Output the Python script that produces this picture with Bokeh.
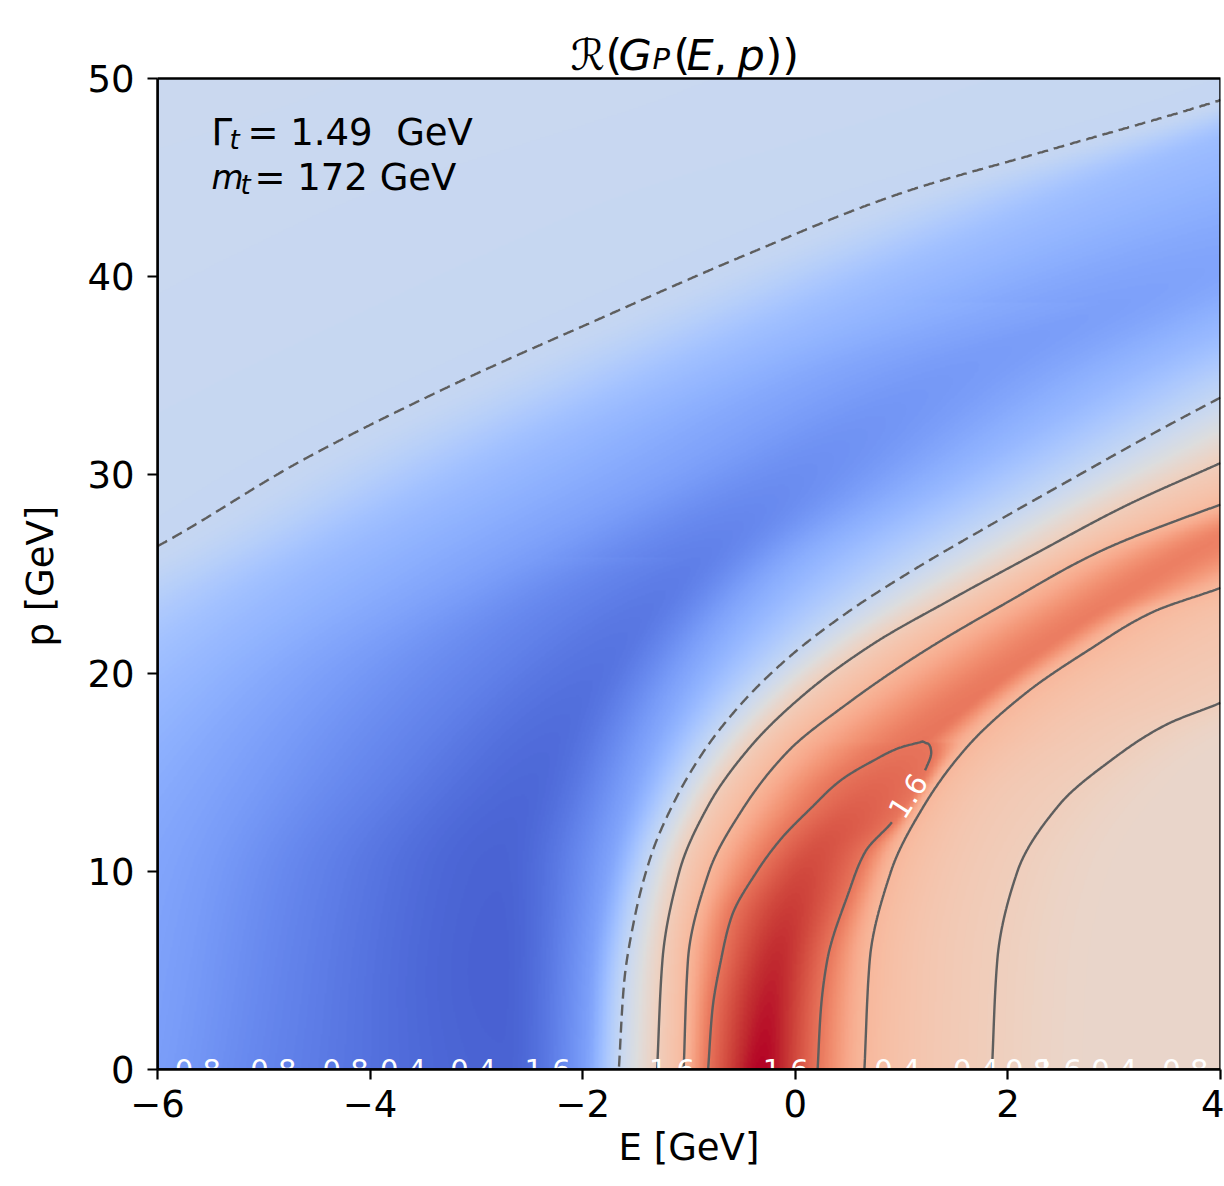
import numpy as np
import contourpy
from bokeh.plotting import figure
from bokeh.models import Range1d, LinearColorMapper, FixedTicker, Label, BoxAnnotation
from bokeh.core.properties import value
from bokeh.embed import file_html
from bokeh.resources import INLINE

# ---------------- values ----------------
E_TICKS = [-6, -4, -2, 0, 2, 4]
P_TICKS = [0, 10, 20, 30, 40, 50]

# colour field, estimated in value units (colour scale -2.4 .. 2.4)
FAR_LEFT_E = -30.0
FAR_LEFT_V = -0.28
# left flank of the blue trough: positions of the -1.0, -1.4, -1.8 values
LW10_P = [0, 10, 15, 20, 25, 30, 35, 40, 45, 50]
LW10_E = [-9.5, -8.0, -7.0, -6.0, -4.7, -3.0, -1.1, 1.0, 3.2, 5.6]
LW10_V = -1.0
LW14_P = [0, 10, 15, 20, 25, 30, 35, 39.2]
LW14_E = [-6.2, -5.8, -5.3, -4.5, -3.0, -1.2, 0.6, 3.2]
LW14_V = -1.4
LW18_P = [0, 10, 15, 20, 25, 26.2]
LW18_E = [-4.83, -4.5, -3.8, -2.9, -1.5, -0.85]
LW18_V = -1.8

ROW_P = [0, 5, 10, 15, 20, 25, 30, 35, 40, 45, 50]
TROUGH_E = [-2.75, -2.8, -2.8, -2.45, -1.9, -1.1, 0.0, 1.4, 3.6, 5.8, 8.0]
TROUGH_V = [-2.15, -2.17, -2.15, -2.08, -1.98, -1.85, -1.65, -1.50, -1.38, -1.25, -1.10]
SHOULDER_E = [-2.0, -1.95, -1.8, -1.5, -1.0, -0.15, 1.3, 3.0, 5.2, 7.4, 10.0]
SHOULDER_V = [-1.45, -1.45, -1.42, -1.38, -1.32, -1.25, -1.20, -1.10, -1.00, -0.90, -0.80]
PLATEAU_E = [2.8, 2.85, 3.05, 3.7, 5.5, 8.0, 10.5, 13.0, 16.0, 19.0, 22.5]
PLATEAU_V = 0.24
FAR_E = 30.0
FAR_V = 0.15

RIDGE_P = [0, 5, 10, 14.5, 16.55, 19, 21, 23.5, 26.8, 30, 35, 40, 45, 50]
RIDGE_E = [-0.32, -0.2, 0.1, 0.8, 1.2, 1.75, 2.25, 2.95, 4.0, 5.6, 8.0, 10.8, 13.6, 17.0]
RIDGE_V = [2.4, 2.25, 2.0, 1.72, 1.6, 1.56, 1.52, 1.5, 1.48, 1.42, 1.3, 1.2, 1.1, 1.0]

# contour lines (E read at given p) and their levels
LEVEL_NEG = -0.4
LEVEL_A = 0.4
LEVEL_B = 0.8
LEVEL_C = 1.6

D1_P = [0, 10, 20, 26.4, 30.7, 34.5, 37.9, 41.2, 44.2, 46.4, 48.9, 50]
D1_E = [-14.0, -11.5, -8.5, -6.0, -4.65, -3.24, -1.83, -0.42, 0.99, 2.40, 4.0, 4.6]
D2_P = [0, 4.4, 7.7, 10.9, 13.6, 16.1, 18.5, 20.8, 23.1, 25.3, 27.3, 29.7, 32.1, 33.9, 35, 40, 45, 50]
D2_E = [-1.66, -1.61, -1.51, -1.35, -1.13, -0.855, -0.50, -0.06, 0.50, 1.14, 1.78, 2.57, 3.37, 4.0, 4.4, 6.6, 9.0, 12.0]
L1_P = [0, 5.5, 10, 13.4, 16.3, 19.0, 21.5, 23.7, 26.0, 28.5, 30.6, 35, 40, 45, 50]
L1_E = [-1.30, -1.25, -1.09, -0.81, -0.42, 0.10, 0.74, 1.46, 2.25, 3.13, 4.0, 5.8, 8.2, 10.8, 14.0]
L2_P = [0, 5.5, 10, 13.1, 16.1, 18.5, 21.0, 23.5, 26.2, 28.5, 30, 35, 40, 45, 50]
L2_E = [-1.05, -1.01, -0.81, -0.50, -0.06, 0.50, 1.18, 1.97, 2.89, 4.0, 4.8, 7.0, 9.5, 12.2, 15.5]
C_LEFT_P = [0, 3, 5.5, 7.7, 10, 11.6, 13.2, 14.6, 15.6, 16.25, 16.55]
C_LEFT_E = [-0.82, -0.78, -0.70, -0.60, -0.36, -0.14, 0.15, 0.43, 0.74, 0.99, 1.2]
C_RIGHT_P = [0, 3, 5.5, 8.9, 11.0, 12.55, 15.2, 16.0, 16.4, 16.55]
C_RIGHT_E = [0.21, 0.24, 0.30, 0.50, 0.66, 0.92, 1.23, 1.28, 1.26, 1.2]
R2_P = [0, 5.5, 10, 13.4, 16.3, 19.0, 21.2, 23.1, 24.3, 27.5, 30, 35, 40, 45, 50]
R2_E = [0.65, 0.70, 0.90, 1.22, 1.62, 2.17, 2.77, 3.37, 4.0, 5.5, 6.8, 9.5, 12.5, 15.5, 19.0]
R1_P = [0, 5.5, 10, 13.4, 15.6, 17.4, 18.5, 20, 22.5, 25, 30, 35, 40, 45, 50]
R1_E = [1.85, 1.90, 2.09, 2.49, 2.97, 3.49, 4.0, 4.6, 5.7, 7.0, 9.5, 12.0, 15.0, 18.0, 21.5]

# labels
BOTTOM_LABEL_E = [-5.62, -4.91, -4.23, -3.69, -3.03, -2.33, -1.16, -0.09, 0.96, 1.70, 2.19, 2.48, 3.0, 3.67]
BOTTOM_LABEL_T = ["0.8", "0.8", "0.8", "0.4", "0.4", "1.6", "1.6", "1.6", "0.4", "0.4", "0.8", "1.6", "0.4", "0.8"]
LOOP_LABEL_E = [1.06]
LOOP_LABEL_P = [13.8]
LOOP_LABEL_T = ["1.6"]

# coolwarm colour table (33 knots)
COOLWARM = [(59, 76, 192), (68, 90, 204), (77, 104, 215), (87, 117, 225), (98, 130, 234), (108, 142, 241),
            (119, 154, 247), (130, 165, 251), (141, 176, 254), (152, 185, 255), (163, 194, 255), (174, 201, 253),
            (184, 208, 249), (194, 213, 244), (204, 217, 238), (213, 219, 230), (221, 221, 221), (229, 216, 209),
            (236, 211, 197), (241, 204, 184), (245, 196, 172), (247, 187, 160), (247, 177, 148), (247, 166, 137),
            (244, 154, 123), (241, 141, 111), (236, 127, 99), (229, 112, 88), (222, 96, 77), (213, 80, 66),
            (203, 62, 56), (192, 40, 47), (180, 4, 38)]


def pchip(xk, yk, xq):
    """Monotone cubic (Fritsch-Carlson) through the given knots, used for smooth rendering."""
    xk = np.asarray(xk, float)
    yk = np.asarray(yk, float)
    xq = np.clip(np.asarray(xq, float), xk[0], xk[-1])
    n = len(xk)
    if n == 1:
        return np.full(np.shape(xq), yk[0])
    h = np.diff(xk)
    d = np.diff(yk) / h
    m = np.empty(n)
    m[0] = d[0]
    m[-1] = d[-1]
    for k in range(1, n - 1):
        if d[k - 1] * d[k] <= 0:
            m[k] = 0.0
        else:
            w1 = 2 * h[k] + h[k - 1]
            w2 = h[k] + 2 * h[k - 1]
            m[k] = (w1 + w2) / (w1 / d[k - 1] + w2 / d[k])
    idx = np.clip(np.searchsorted(xk, xq, side="right") - 1, 0, n - 2)
    t = (xq - xk[idx]) / h[idx]
    t2 = t * t
    t3 = t2 * t
    return ((2 * t3 - 3 * t2 + 1) * yk[idx] + (t3 - 2 * t2 + t) * h[idx] * m[idx]
            + (-2 * t3 + 3 * t2) * yk[idx + 1] + (t3 - t2) * h[idx] * m[idx + 1])


# ---------------- colour image from the read values ----------------
knots = np.linspace(0, 1, len(COOLWARM))
tt = np.linspace(0, 1, 256)
chan = [np.interp(tt, knots, [c[k] for c in COOLWARM]) for k in range(3)]
palette = ["#%02x%02x%02x" % (int(round(chan[0][i])), int(round(chan[1][i])), int(round(chan[2][i])))
           for i in range(256)]


def const(v, n):
    return [v] * n


nr = len(ROW_P)
flank = [
    (LW10_P, LW10_E, const(LW10_V, len(LW10_P))),
    (LW14_P, LW14_E, const(LW14_V, len(LW14_P))),
    (LW18_P, LW18_E, const(LW18_V, len(LW18_P))),
]
curves = [
    (ROW_P, const(FAR_LEFT_E, nr), const(FAR_LEFT_V, nr)),
    (ROW_P, SHOULDER_E, SHOULDER_V),
    (ROW_P, PLATEAU_E, const(PLATEAU_V, nr)),
    (ROW_P, const(FAR_E, nr), const(FAR_V, nr)),
    (RIDGE_P, RIDGE_E, RIDGE_V),
    (D1_P, D1_E, const(LEVEL_NEG, len(D1_P))),
    (D2_P, D2_E, const(LEVEL_NEG, len(D2_P))),
    (L1_P, L1_E, const(LEVEL_A, len(L1_P))),
    (R1_P, R1_E, const(LEVEL_A, len(R1_P))),
    (L2_P, L2_E, const(LEVEL_B, len(L2_P))),
    (R2_P, R2_E, const(LEVEL_B, len(R2_P))),
    (C_LEFT_P, C_LEFT_E, const(LEVEL_C, len(C_LEFT_P))),
    (C_RIGHT_P, C_RIGHT_E, const(LEVEL_C, len(C_RIGHT_P))),
]

E_GRID = np.linspace(-6, 4, 800)
P_GRID = np.linspace(0, 50, 700)
Z = np.empty((len(P_GRID), len(E_GRID)))
for i, pv in enumerate(P_GRID):
    te = float(pchip(ROW_P, TROUGH_E, pv))
    tv = float(pchip(ROW_P, TROUGH_V, pv))
    pts = [(te, tv)]
    for cp, ce, cv in flank:
        if pv > cp[-1]:
            continue
        e = float(pchip(cp, ce, pv))
        v = float(pchip(cp, cv, pv))
        if e < te - 0.12 and v > tv:
            pts.append((e, v))
    for cp, ce, cv in curves:
        if pv < cp[0] - 1e-9 or pv > cp[-1] + 1e-9:
            continue
        pts.append((float(pchip(cp, ce, pv)), float(pchip(cp, cv, pv))))
    pts.sort()
    xs, vs = [], []
    for e, v in pts:
        if xs and e - xs[-1] < 1e-3:
            continue
        xs.append(e)
        vs.append(v)
    Z[i] = pchip(xs, vs, E_GRID)

# ---------------- figure ----------------
FONT = "DejaVu Sans"
PX_PER_P = 19.82
PX_PER_E = 106.3
Y_TOP = 50 + 78 / PX_PER_P
p = figure(width=1224, height=1186, x_range=Range1d(-6, 4), y_range=Range1d(0, Y_TOP),
           output_backend="svg", toolbar_location=None, title=None,
           min_border_left=157, min_border_right=4, min_border_top=0, min_border_bottom=117)
p.grid.visible = False
p.background_fill_color = "white"
p.border_fill_color = "white"
p.outline_line_color = None

mapper = LinearColorMapper(palette=palette, low=-2.4, high=2.4)
p.image(image=[Z], x=-6, y=0, dw=10, dh=50, color_mapper=mapper)

# contour lines of the field
gen = contourpy.contour_generator(E_GRID, P_GRID, Z)
line_col = "#5e5e5e"


def lines_for(level, hole=None):
    xs, ys = [], []
    for seg in gen.lines(level):
        e = seg[:, 0]
        q = seg[:, 1]
        keep = np.ones(len(e), bool)
        if hole is not None:
            he, hp, r = hole
            keep = np.hypot((e - he) * PX_PER_E, (q - hp) * PX_PER_P) > r
        start = None
        for k in range(len(e) + 1):
            if k < len(e) and keep[k]:
                if start is None:
                    start = k
            else:
                if start is not None and k - start > 1:
                    xs.append(list(e[start:k]))
                    ys.append(list(q[start:k]))
                start = None
    return xs, ys


xs, ys = lines_for(LEVEL_NEG)
p.multi_line(xs, ys, line_color=line_col, line_width=2.4, line_dash="11 6")
for lev in (LEVEL_A, LEVEL_B):
    xs, ys = lines_for(lev)
    p.multi_line(xs, ys, line_color=line_col, line_width=2.4)
xs, ys = lines_for(LEVEL_C, hole=(LOOP_LABEL_E[0], LOOP_LABEL_P[0], 30))
p.multi_line(xs, ys, line_color=line_col, line_width=2.4)

p.text(x=LOOP_LABEL_E, y=LOOP_LABEL_P, text=LOOP_LABEL_T, angle=1.0,
       text_color="white", text_font=value(FONT), text_font_size="29px",
       text_align="center", text_baseline="middle")
p.text(x=BOTTOM_LABEL_E, y=[0] * len(BOTTOM_LABEL_E), text=BOTTOM_LABEL_T,
       text_color="white", text_font=value(FONT), text_font_size="29px",
       text_align="center", text_baseline="middle")

# frame (spines)
p.add_layout(BoxAnnotation(left=-6, right=4, bottom=0, top=50, fill_color=None, fill_alpha=0,
                           line_color="black", line_alpha=1.0, line_width=2.5))

# axes
for ax in (p.xaxis[0], p.yaxis[0]):
    ax.axis_line_color = "black"
    ax.axis_line_width = 2.5
    ax.major_tick_line_color = "black"
    ax.major_tick_line_width = 2.2
    ax.major_tick_out = 10
    ax.major_tick_in = 0
    ax.minor_tick_line_color = None
    ax.major_label_text_font = FONT
    ax.major_label_text_font_size = "37px"
    ax.major_label_text_color = "black"
    ax.axis_label_text_font = FONT
    ax.axis_label_text_font_size = "37px"
    ax.axis_label_text_font_style = "normal"
    ax.axis_label_text_color = "black"

p.xaxis.ticker = FixedTicker(ticks=E_TICKS)
p.yaxis.ticker = FixedTicker(ticks=P_TICKS)
p.yaxis.bounds = (0, 50)
p.xaxis.major_label_overrides = {t: ("\u2212" + str(abs(t)) if t < 0 else str(t)) for t in E_TICKS}
p.xaxis.axis_label = "E [GeV]"
p.yaxis.axis_label = "p [GeV]" + "\u00a0" * 7
p.xaxis.major_label_standoff = 10
p.yaxis.major_label_standoff = 13
p.xaxis.axis_label_standoff = 6
p.yaxis.axis_label_standoff = 22


def piece(x, y, t, size, style="normal"):
    p.add_layout(Label(x=x, y=y, text=t, text_font=FONT, text_font_size=size,
                       text_font_style=style, text_color="black",
                       text_align="left", text_baseline="alphabetic"))


def ypx(y):
    return (1069 - y) / PX_PER_P


def xpx(x):
    return -6 + (x - 157) / PX_PER_E


# title  R(G_P(E, p))
piece(xpx(570), ypx(54), "\u211b", "43px")
piece(xpx(605), ypx(54), "(", "43px")
piece(xpx(618), ypx(54), "G", "43px", "italic")
piece(xpx(652), ypx(58), "P", "29px", "italic")
piece(xpx(673), ypx(54), "(", "43px")
piece(xpx(686), ypx(54), "E", "43px", "italic")
piece(xpx(713), ypx(54), ",", "43px")
piece(xpx(737), ypx(54), "p", "43px", "italic")
piece(xpx(765), ypx(54), "))", "43px")

# parameter text
piece(xpx(211), ypx(132), "\u0393", "37px")
piece(xpx(229), ypx(139), "t", "26px", "italic")
piece(xpx(247), ypx(132), "= 1.49\u00a0 GeV", "37px")
piece(xpx(211), ypx(177), "m", "33px", "italic")
piece(xpx(240), ypx(184), "t", "26px", "italic")
piece(xpx(254), ypx(177), "= 172 GeV", "37px")

open("out.html", "w").write(file_html(p, INLINE))
